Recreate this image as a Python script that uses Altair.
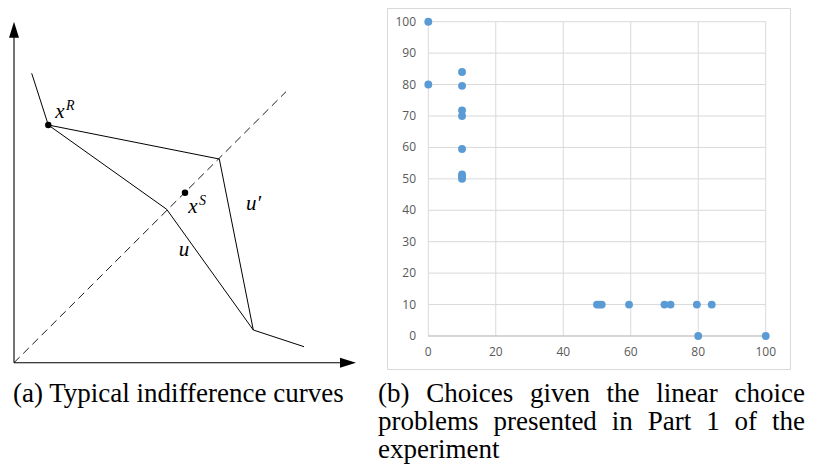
import altair as alt
import pandas as pd

# ---------------- Panel (a): indifference-curve diagram (diagram units) ----------------
u_x = [17.7, 34.3, 152.7, 239.3, 290.0]          # curve u (incl. outer tails)
u_y = [289.4, 237.7, 153.4, 32.7, 16.0]
up_x = [34.3, 205.3, 239.3]                       # curve u'
up_y = [237.7, 203.7, 32.7]
diag_x = [0, 272]                                 # 45-degree dashed line
diag_y = [0, 271]
pt_x = [34.3, 171.0]                              # x^R, x^S
pt_y = [237.7, 170.0]
lab_text = ["x", "x", "u′", "u"]
lab_x = [46.0, 179.0, 239.5, 170.0]
lab_y = [244.7, 149.7, 152.7, 106.7]
sup_text = ["R", "S"]
axis_end = [333, 334]                             # arrow-head centres (y-axis, x-axis)

# ---------------- Panel (b): scatter of choices ----------------
choice_x = [0, 0, 10, 10, 10, 10, 10, 10, 10, 10,
            84, 79.6, 71.8, 70, 59.5, 51.4, 50.7, 50, 80, 100]
choice_y = [100, 80, 84, 79.6, 71.8, 70, 59.5, 51.4, 50.7, 50,
            10, 10, 10, 10, 10, 10, 10, 10, 0, 0]
x_ticks = [0, 20, 40, 60, 80, 100]
y_ticks = [0, 10, 20, 30, 40, 50, 60, 70, 80, 90, 100]

# ---------------- Captions ----------------
caption_a = "(a) Typical indifference curves"
caption_b1 = ["(b)", "Choices", "given", "the", "linear", "choice"]
caption_b2 = ["problems", "presented", "in", "Part", "1", "of", "the"]
caption_b3 = ["experiment"]

CAP_SIZE = 27
# approximate advance widths (per 1000 em) of Liberation Serif, used to justify caption (b)
_w = {'(': 333, ')': 333, 'a': 444, 'b': 500, 'c': 444, 'd': 500, 'e': 444, 'f': 333,
      'g': 500, 'h': 500, 'i': 278, 'l': 278, 'm': 778, 'n': 500, 'o': 500, 'p': 500,
      'r': 333, 's': 389, 't': 278, 'u': 500, 'v': 500, 'x': 500, 'y': 500, 'C': 667,
      'P': 556, 'T': 611, '1': 500}


def word_w(w):
    return sum(_w.get(ch, 500) for ch in w) / 1000 * CAP_SIZE


def justify(words, left, right):
    if len(words) == 1:
        return [left]
    total = sum(word_w(w) for w in words)
    gap = (right - left - total) / (len(words) - 1)
    pos, x = [], left
    for w in words:
        pos.append(x)
        x += word_w(w) + gap
    return pos


DX = dict(domain=[0, 342], range=[6, 348])
DY = dict(domain=[0, 341], range=[354.7, 13.7])
SX = dict(domain=[0, 100], range=[420.3, 757.7])
SY = dict(domain=[0, 100], range=[328, 13.7])


def sx(field, d):
    return alt.X(f"{field}:Q", scale=alt.Scale(nice=False, zero=False, **d), axis=None)


def sy(field, d):
    return alt.Y(f"{field}:Q", scale=alt.Scale(nice=False, zero=False, **d), axis=None)


layers = []

# --- diagram axes ---
ax_df = pd.DataFrame({"x0": [0, 0], "y0": [0, 0], "x1": [0, axis_end[1]], "y1": [axis_end[0], 0]})
layers.append(alt.Chart(ax_df).mark_rule(color="black", strokeWidth=1.1).encode(
    x=sx("x0", DX), y=sy("y0", DY), x2="x1:Q", y2="y1:Q"))
layers.append(alt.Chart(pd.DataFrame({"x": [0], "y": [axis_end[0]]})).mark_point(
    shape="M0,-1L0.62,1L-0.62,1Z", filled=True, color="black", opacity=1, size=256, strokeWidth=0
).encode(x=sx("x", DX), y=sy("y", DY)))
layers.append(alt.Chart(pd.DataFrame({"x": [axis_end[1]], "y": [0]})).mark_point(
    shape="M1,0L-1,0.62L-1,-0.62Z", filled=True, color="black", opacity=1, size=256, strokeWidth=0
).encode(x=sx("x", DX), y=sy("y", DY)))

# --- dashed diagonal ---
layers.append(alt.Chart(pd.DataFrame({"x": diag_x, "y": diag_y})).mark_line(
    color="black", strokeWidth=0.9, strokeDash=[8, 5]).encode(x=sx("x", DX), y=sy("y", DY)))

# --- curves ---
curves = pd.concat([
    pd.DataFrame({"x": u_x, "y": u_y, "c": "u", "o": range(len(u_x))}),
    pd.DataFrame({"x": up_x, "y": up_y, "c": "up", "o": range(len(up_x))}),
])
layers.append(alt.Chart(curves).mark_line(color="black", strokeWidth=1).encode(
    x=sx("x", DX), y=sy("y", DY), detail="c:N", order="o:Q"))

# --- points x^R, x^S ---
layers.append(alt.Chart(pd.DataFrame({"x": pt_x, "y": pt_y})).mark_circle(
    color="black", opacity=1, size=42).encode(x=sx("x", DX), y=sy("y", DY)))

# --- math labels ---
lab_df = pd.DataFrame({"x": lab_x, "y": lab_y, "t": lab_text})
layers.append(alt.Chart(lab_df).mark_text(
    font="Liberation Serif", fontStyle="italic", fontSize=21, align="center",
    baseline="alphabetic", color="black").encode(x=sx("x", DX), y=sy("y", DY), text="t:N"))
sup_df = pd.DataFrame({"x": lab_x[:2], "y": lab_y[:2], "t": sup_text})
layers.append(alt.Chart(sup_df).mark_text(
    font="Liberation Serif", fontStyle="italic", fontSize=14, align="left",
    baseline="alphabetic", color="black", dx=6, dy=-8).encode(x=sx("x", DX), y=sy("y", DY), text="t:N"))

# --- scatter frame ---
layers.append(alt.Chart(pd.DataFrame({"a": [0]})).mark_rect(
    fill="white", fillOpacity=0, stroke="#d9d9d9", strokeWidth=1).encode(
    x=alt.value(379.5), x2=alt.value(782.5), y=alt.value(0.5), y2=alt.value(361.5)))

# --- gridlines ---
vg = pd.DataFrame({"g": x_ticks, "lo": 0, "hi": 100})
layers.append(alt.Chart(vg).mark_rule(color="#d9d9d9", strokeWidth=1).encode(
    x=sx("g", SX), y=sy("lo", SY), y2="hi:Q"))
hg = pd.DataFrame({"g": y_ticks, "lo": 0, "hi": 100})
layers.append(alt.Chart(hg).mark_rule(color="#d9d9d9", strokeWidth=1).encode(
    y=sy("g", SY), x=sx("lo", SX), x2="hi:Q"))
layers.append(alt.Chart(pd.DataFrame({"g": [0], "lo": [0], "hi": [100]})).mark_rule(
    color="#bfbfbf", strokeWidth=1).encode(y=sy("g", SY), x=sx("lo", SX), x2="hi:Q"))

# --- tick labels ---
layers.append(alt.Chart(pd.DataFrame({"v": x_ticks})).mark_text(
    font="Open Sans", fontSize=12, color="#595959", align="center", baseline="middle").encode(
    x=sx("v", SX), y=alt.value(343.7), text="v:Q"))
layers.append(alt.Chart(pd.DataFrame({"v": y_ticks})).mark_text(
    font="Open Sans", fontSize=12, color="#595959", align="right", baseline="middle").encode(
    y=sy("v", SY), x=alt.value(408), text="v:Q"))

# --- scatter points ---
layers.append(alt.Chart(pd.DataFrame({"x": choice_x, "y": choice_y})).mark_circle(
    color="#5b9bd5", opacity=1, size=62).encode(x=sx("x", SX), y=sy("y", SY)))

# --- captions ---
cap_style = dict(font="Liberation Serif", fontSize=CAP_SIZE, align="left", baseline="alphabetic", color="black")
layers.append(alt.Chart(pd.DataFrame({"t": [caption_a + " "]})).mark_text(**cap_style).encode(
    x=alt.value(5), y=alt.value(394), text="t:N"))
for words, base in [(caption_b1, 394), (caption_b2, 422), (caption_b3, 450)]:
    for w, p in zip(words, justify(words, 370, 797)):
        layers.append(alt.Chart(pd.DataFrame({"t": [w]})).mark_text(**cap_style).encode(
            x=alt.value(p), y=alt.value(base), text="t:N"))

chart = alt.layer(*layers).resolve_scale(x="independent", y="independent").properties(
    width=798, height=456, padding=0, autosize=alt.AutoSizeParams(type="none")
).configure_view(stroke=None)

chart.save("out.html", embed_options={"renderer": "svg", "actions": False})
